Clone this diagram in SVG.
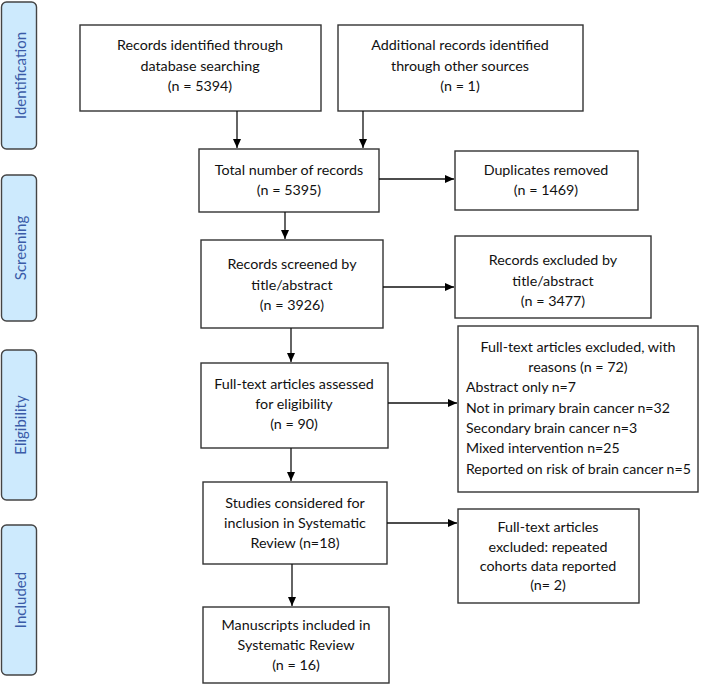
<svg xmlns="http://www.w3.org/2000/svg" width="709" height="686" viewBox="0 0 709 686">
<defs>
<marker id="ah" markerWidth="10" markerHeight="10" refX="9" refY="5" orient="auto" markerUnits="userSpaceOnUse">
<path d="M0,1 L9,5 L0,9 Z" fill="#000"/>
</marker>
</defs>
<style>
.box{fill:#fff;stroke:#333;stroke-width:1.4}
.side{fill:#cdeafd;stroke:#444;stroke-width:1.4}
.t{font-family:Lato,"Open Sans","Liberation Sans",sans-serif;font-size:14.3px;fill:#111;text-anchor:middle}
.tl{font-family:Lato,"Open Sans","Liberation Sans",sans-serif;font-size:14.1px;fill:#111;text-anchor:start}
.st{font-family:Lato,"Open Sans","Liberation Sans",sans-serif;font-size:15px;fill:#3a5ba8;text-anchor:middle}
.c{stroke:#111;stroke-width:1.3;fill:none;marker-end:url(#ah)}
</style>
<rect width="709" height="686" fill="#fff"/>
<g id="side-identification"><rect class="side" x="1.5" y="2" width="35" height="147" rx="5"/><text class="st" transform="translate(26,75.5) rotate(-90)">Identification</text></g>
<g id="side-screening"><rect class="side" x="1.5" y="175" width="35" height="146" rx="5"/><text class="st" transform="translate(26,248) rotate(-90)">Screening</text></g>
<g id="side-eligibility"><rect class="side" x="1.5" y="350" width="35" height="150" rx="5"/><text class="st" transform="translate(26,425) rotate(-90)">Eligibility</text></g>
<g id="side-included"><rect class="side" x="1.5" y="525" width="35" height="150" rx="5"/><text class="st" transform="translate(26,600) rotate(-90)">Included</text></g>

<g id="n-db"><rect class="box" x="80" y="25" width="241" height="86"/>
<text class="t" x="200" y="50">Records identified through</text>
<text class="t" x="200" y="71">database searching</text>
<text class="t" x="200" y="91">(n = 5394)</text></g>
<g id="n-other"><rect class="box" x="338" y="25" width="245" height="86"/>
<text class="t" x="460" y="50">Additional records identified</text>
<text class="t" x="460" y="71">through other sources</text>
<text class="t" x="460" y="91">(n = 1)</text></g>
<g id="n-total"><rect class="box" x="199" y="149" width="180" height="63"/>
<text class="t" x="289" y="175">Total number of records</text>
<text class="t" x="289" y="195">(n = 5395)</text></g>
<g id="n-dup"><rect class="box" x="455" y="151" width="183" height="59"/>
<text class="t" x="546" y="175">Duplicates removed</text>
<text class="t" x="546" y="195">(n = 1469)</text></g>
<g id="n-screened"><rect class="box" x="201" y="240" width="182" height="88"/>
<text class="t" x="292" y="269">Records screened by</text>
<text class="t" x="292" y="290">title/abstract</text>
<text class="t" x="292" y="310">(n = 3926)</text></g>
<g id="n-excl-title"><rect class="box" x="455" y="236" width="196" height="82"/>
<text class="t" x="553" y="265">Records excluded by</text>
<text class="t" x="553" y="286">title/abstract</text>
<text class="t" x="553" y="306">(n = 3477)</text></g>
<g id="n-fulltext"><rect class="box" x="201" y="363" width="187" height="85"/>
<text class="t" x="294" y="389">Full-text articles assessed</text>
<text class="t" x="294" y="409">for eligibility</text>
<text class="t" x="294" y="429">(n = 90)</text></g>
<g id="n-excl-full"><rect class="box" x="458" y="326" width="240" height="166"/>
<text class="t" x="578" y="352">Full-text articles excluded, with</text>
<text class="t" x="578" y="372">reasons (n = 72)</text>
<text class="tl" x="466" y="392">Abstract only n=7</text>
<text class="tl" x="466" y="413">Not in primary brain cancer n=32</text>
<text class="tl" x="466" y="433">Secondary brain cancer n=3</text>
<text class="tl" x="466" y="453">Mixed intervention n=25</text>
<text class="tl" x="466" y="474">Reported on risk of brain cancer n=5</text></g>
<g id="n-studies"><rect class="box" x="203" y="482" width="184" height="82"/>
<text class="t" x="295" y="508">Studies considered for</text>
<text class="t" x="295" y="528">inclusion in Systematic</text>
<text class="t" x="295" y="548">Review (n=18)</text></g>
<g id="n-excl-rep"><rect class="box" x="458" y="509" width="181" height="94"/>
<text class="t" x="548" y="532">Full-text articles</text>
<text class="t" x="548" y="552">excluded: repeated</text>
<text class="t" x="548" y="571">cohorts data reported</text>
<text class="t" x="548" y="590">(n= 2)</text></g>
<g id="n-included"><rect class="box" x="203" y="607" width="186" height="76"/>
<text class="t" x="296" y="630">Manuscripts included in</text>
<text class="t" x="296" y="650">Systematic Review</text>
<text class="t" x="296" y="670">(n = 16)</text></g>

<g id="connectors">
<line class="c" x1="237" y1="111" x2="237" y2="148"/>
<line class="c" x1="363" y1="111" x2="363" y2="148"/>
<line class="c" x1="285" y1="212" x2="285" y2="239"/>
<line class="c" x1="379" y1="179" x2="454" y2="179"/>
<line class="c" x1="383" y1="287" x2="454" y2="287"/>
<line class="c" x1="291" y1="328" x2="291" y2="362"/>
<line class="c" x1="388" y1="403" x2="457" y2="403"/>
<line class="c" x1="291" y1="448" x2="291" y2="481"/>
<line class="c" x1="387" y1="523" x2="457" y2="523"/>
<line class="c" x1="292" y1="564" x2="292" y2="606"/>
</g>
</svg>
